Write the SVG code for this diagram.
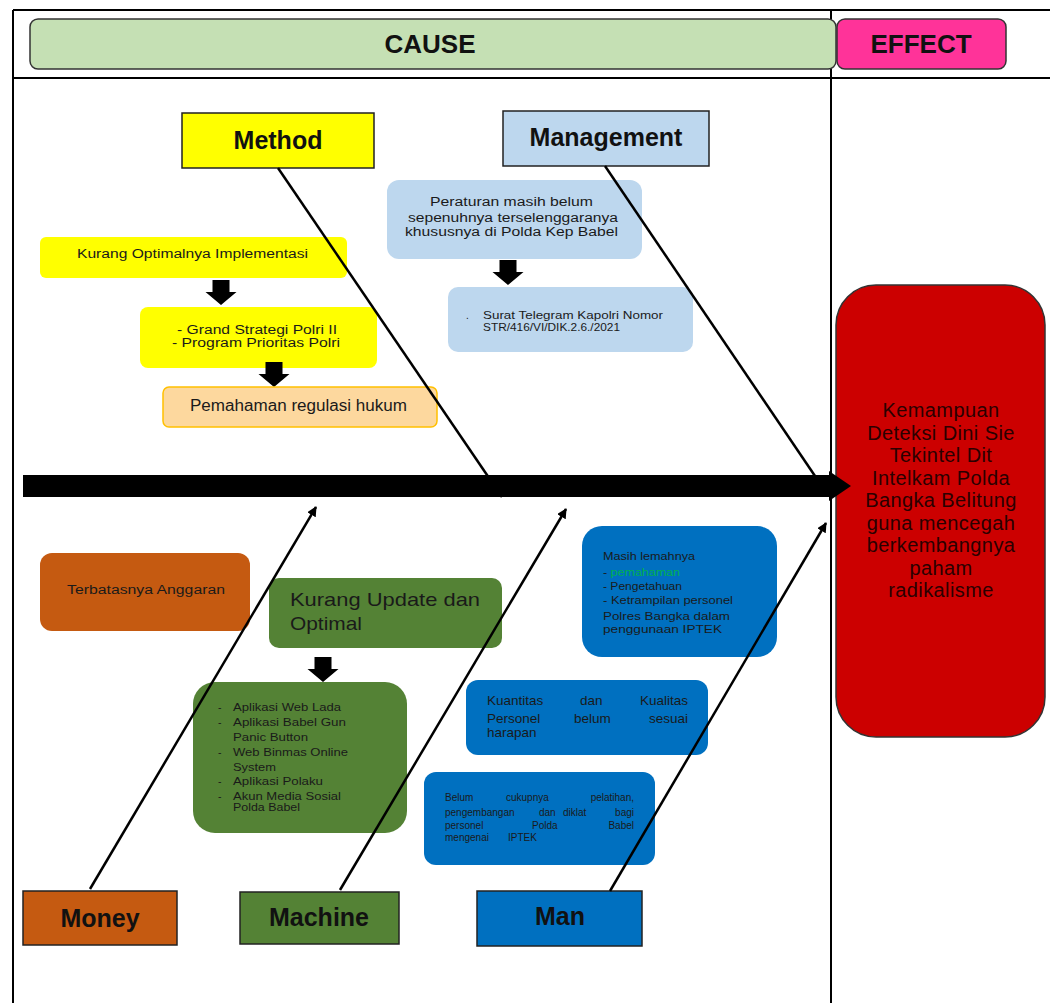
<svg xmlns="http://www.w3.org/2000/svg" width="1050" height="1003" viewBox="0 0 1050 1003">
<style>
.frame{stroke:#000;stroke-width:2;fill:none}
.hdr{font-family:"Liberation Sans",Arial,sans-serif;font-weight:bold;font-size:26px;fill:#111;text-anchor:middle}
.lbl{font-family:"Liberation Sans",Arial,sans-serif;font-weight:bold;font-size:25px;fill:#111;text-anchor:middle}
.cat{stroke:#222;stroke-width:1.5}
.t{font-family:"Liberation Sans",Arial,sans-serif;fill:#1a1a1a}
.eff{font-family:"Liberation Sans",Arial,sans-serif;font-size:20px;letter-spacing:0.4px;fill:#2a0000;text-anchor:middle}
.bone{stroke:#000;stroke-width:2.5;fill:none}
</style>
<defs>
<marker id="ah" viewBox="0 0 10 10" refX="9" refY="5" markerWidth="4" markerHeight="4" orient="auto" markerUnits="strokeWidth">
<path d="M0,0 L10,5 L0,10 z" fill="#000"/>
</marker>
<path id="blk" d="M-8.5,0 h17 v12 h7 l-15.5,13 l-15.5,-13 h7 z" fill="#000"/>
</defs>
<rect width="1050" height="1003" fill="#fff"/>
<g id="frame">
<line class="frame" x1="13" y1="10" x2="1050" y2="10"/>
<line class="frame" x1="13" y1="78" x2="1050" y2="78"/>
<line class="frame" x1="13" y1="10" x2="13" y2="1003"/>
<line class="frame" x1="831" y1="10" x2="831" y2="1003"/>
</g>
<g id="cause">
<rect x="30" y="19" width="806" height="50" rx="8" fill="#c5e0b4" stroke="#333" stroke-width="1.5"/>
<text class="hdr" x="430" y="53">CAUSE</text>
</g>
<g id="effect-hdr">
<rect x="837" y="19" width="169" height="50" rx="8" fill="#ff3399" stroke="#333" stroke-width="1.5"/>
<text class="hdr" x="921" y="53">EFFECT</text>
</g>
<g id="method">
<rect class="cat" x="182" y="113" width="192" height="55" fill="#ffff00"/>
<text class="lbl" x="278" y="149">Method</text>
</g>
<g id="management">
<rect class="cat" x="503" y="111" width="206" height="55" fill="#bdd7ee"/>
<text class="lbl" x="606" y="146">Management</text>
</g>
<g id="money">
<rect class="cat" x="23" y="891" width="154" height="54" fill="#c55a11"/>
<text class="lbl" x="100" y="927">Money</text>
</g>
<g id="machine">
<rect class="cat" x="240" y="892" width="159" height="52" fill="#548235"/>
<text class="lbl" x="319" y="926">Machine</text>
</g>
<g id="man">
<rect class="cat" x="477" y="891" width="165" height="55" fill="#0070c0"/>
<text class="lbl" x="560" y="925">Man</text>
</g>
<g id="method-1">
<rect x="40" y="237" width="307" height="41" rx="6" fill="#ffff00"/>
<text class="t" x="77" y="258" font-size="12" textLength="231" lengthAdjust="spacingAndGlyphs">Kurang Optimalnya Implementasi</text>
</g>
<use href="#blk" x="221" y="280"/>
<g id="method-2">
<rect x="140" y="307" width="237" height="61" rx="8" fill="#ffff00"/>
<text class="t" x="177" y="334" font-size="12.5" textLength="160" lengthAdjust="spacingAndGlyphs">- Grand Strategi Polri II</text>
<text class="t" x="172" y="347" font-size="12.5" textLength="168" lengthAdjust="spacingAndGlyphs">- Program Prioritas Polri</text>
</g>
<use href="#blk" x="274" y="362"/>
<g id="method-3">
<rect x="163" y="387" width="274" height="40" rx="6" fill="#fdd89e" stroke="#ffc000" stroke-width="1.5"/>
<text class="t" x="190" y="411" font-size="16" textLength="217" lengthAdjust="spacingAndGlyphs">Pemahaman regulasi hukum</text>
</g>
<g id="mgmt-1">
<rect x="387" y="180" width="255" height="79" rx="12" fill="#bdd7ee"/>
<text class="t" x="430" y="206" font-size="12" fill="#333" textLength="163" lengthAdjust="spacingAndGlyphs">Peraturan  masih belum</text>
<text class="t" x="408" y="222" font-size="12" fill="#333" textLength="210" lengthAdjust="spacingAndGlyphs">sepenuhnya terselenggaranya</text>
<text class="t" x="405" y="236" font-size="12" fill="#333" textLength="213" lengthAdjust="spacingAndGlyphs">khususnya di Polda Kep Babel</text>
</g>
<use href="#blk" x="508" y="260"/>
<g id="mgmt-2">
<rect x="448" y="287" width="245" height="65" rx="10" fill="#bdd7ee"/>
<text class="t" x="466" y="319" font-size="10" fill="#333">.</text>
<text class="t" x="483" y="319" font-size="10.5" fill="#333" textLength="180" lengthAdjust="spacingAndGlyphs">Surat  Telegram  Kapolri  Nomor</text>
<text class="t" x="483" y="331" font-size="10.5" fill="#333" textLength="137" lengthAdjust="spacingAndGlyphs">STR/416/VI/DIK.2.6./2021</text>
</g>
<g id="effect">
<rect x="836" y="285" width="209" height="452" rx="40" fill="#cc0000" stroke="#333" stroke-width="1.5"/>
<text class="eff" x="941" y="417">Kemampuan</text>
<text class="eff" x="941" y="439.5">Deteksi Dini Sie</text>
<text class="eff" x="941" y="462">Tekintel Dit</text>
<text class="eff" x="941" y="484.5">Intelkam Polda</text>
<text class="eff" x="941" y="507">Bangka Belitung</text>
<text class="eff" x="941" y="529.5">guna mencegah</text>
<text class="eff" x="941" y="552">berkembangnya</text>
<text class="eff" x="941" y="574.5">paham</text>
<text class="eff" x="941" y="597">radikalisme</text>
</g>
<g id="money-1">
<rect x="40" y="553" width="210" height="78" rx="12" fill="#c55a11"/>
<text class="t" x="67" y="594" font-size="12" textLength="158" lengthAdjust="spacingAndGlyphs">Terbatasnya  Anggaran</text>
</g>
<g id="machine-1">
<rect x="269" y="578" width="233" height="70" rx="10" fill="#548235"/>
<text class="t" x="290" y="606" font-size="19" fill="#111" textLength="190" lengthAdjust="spacingAndGlyphs">Kurang Update dan</text>
<text class="t" x="290" y="630" font-size="19" fill="#111" textLength="72" lengthAdjust="spacingAndGlyphs">Optimal</text>
</g>
<use href="#blk" x="323" y="657"/>
<g id="machine-2" font-size="10.5">
<rect x="193" y="682" width="214" height="151" rx="22" fill="#548235"/>
<text class="t" x="218" y="711" fill="#111">-</text>
<text class="t" x="233" y="711" fill="#111" textLength="108" lengthAdjust="spacingAndGlyphs">Aplikasi  Web  Lada</text>
<text class="t" x="218" y="726" fill="#111">-</text>
<text class="t" x="233" y="726" fill="#111" textLength="113" lengthAdjust="spacingAndGlyphs">Aplikasi  Babel  Gun</text>
<text class="t" x="233" y="741" fill="#111" textLength="75" lengthAdjust="spacingAndGlyphs">Panic  Button</text>
<text class="t" x="218" y="756" fill="#111">-</text>
<text class="t" x="233" y="756" fill="#111" textLength="115" lengthAdjust="spacingAndGlyphs">Web  Binmas  Online</text>
<text class="t" x="233" y="771" fill="#111" textLength="43" lengthAdjust="spacingAndGlyphs">System</text>
<text class="t" x="218" y="785" fill="#111">-</text>
<text class="t" x="233" y="785" fill="#111" textLength="90" lengthAdjust="spacingAndGlyphs">Aplikasi  Polaku</text>
<text class="t" x="218" y="800" fill="#111">-</text>
<text class="t" x="233" y="800" fill="#111" textLength="108" lengthAdjust="spacingAndGlyphs">Akun  Media  Sosial</text>
<text class="t" x="233" y="811" fill="#111" textLength="67" lengthAdjust="spacingAndGlyphs">Polda  Babel</text>
</g>
<g id="man-1" font-size="10">
<rect x="582" y="526" width="195" height="131" rx="20" fill="#0070c0"/>
<text class="t" x="603" y="560" fill="#111" textLength="92" lengthAdjust="spacingAndGlyphs">Masih  lemahnya</text>
<text class="t" x="603" y="576" fill="#111" textLength="77" lengthAdjust="spacingAndGlyphs">- <tspan fill="#00b050">pemahaman</tspan></text>
<text class="t" x="603" y="590" fill="#111" textLength="79" lengthAdjust="spacingAndGlyphs">- Pengetahuan</text>
<text class="t" x="603" y="604" fill="#111" textLength="130" lengthAdjust="spacingAndGlyphs">- Ketrampilan    personel</text>
<text class="t" x="603" y="620" fill="#111" textLength="127" lengthAdjust="spacingAndGlyphs">Polres  Bangka  dalam</text>
<text class="t" x="603" y="633" fill="#111" textLength="119" lengthAdjust="spacingAndGlyphs">penggunaan   IPTEK</text>
</g>
<g id="man-2" font-size="13.5">
<rect x="466" y="680" width="242" height="75" rx="12" fill="#0070c0"/>
<text class="t" x="487" y="705" fill="#111">Kuantitas</text>
<text class="t" x="580" y="705" fill="#111">dan</text>
<text class="t" x="688" y="705" fill="#111" text-anchor="end">Kualitas</text>
<text class="t" x="487" y="723" fill="#111">Personel</text>
<text class="t" x="574" y="723" fill="#111">belum</text>
<text class="t" x="688" y="723" fill="#111" text-anchor="end">sesuai</text>
<text class="t" x="487" y="737" fill="#111">harapan</text>
</g>
<g id="man-3" font-size="10">
<rect x="424" y="772" width="231" height="93" rx="12" fill="#0070c0"/>
<text class="t" x="445" y="801" fill="#111">Belum</text>
<text class="t" x="506" y="801" fill="#111">cukupnya</text>
<text class="t" x="634" y="801" fill="#111" text-anchor="end">pelatihan,</text>
<text class="t" x="445" y="816" fill="#111">pengembangan</text>
<text class="t" x="539" y="816" fill="#111">dan</text>
<text class="t" x="563" y="816" fill="#111">diklat</text>
<text class="t" x="634" y="816" fill="#111" text-anchor="end">bagi</text>
<text class="t" x="445" y="829" fill="#111">personel</text>
<text class="t" x="532" y="829" fill="#111">Polda</text>
<text class="t" x="634" y="829" fill="#111" text-anchor="end">Babel</text>
<text class="t" x="445" y="841" fill="#111">mengenai</text>
<text class="t" x="508" y="841" fill="#111">IPTEK</text>
</g>
<g id="connectors">
<rect x="23" y="475" width="808" height="22" fill="#000"/>
<polygon points="829,471 851,486 829,501" fill="#000"/>
<line class="bone" x1="278" y1="168" x2="502" y2="497"/>
<line class="bone" x1="605" y1="166" x2="815" y2="476"/>
<line class="bone" x1="90" y1="889" x2="316" y2="507" marker-end="url(#ah)"/>
<line class="bone" x1="340" y1="890" x2="566" y2="509" marker-end="url(#ah)"/>
<line class="bone" x1="610" y1="891" x2="826" y2="523" marker-end="url(#ah)"/>
</g>
</svg>
